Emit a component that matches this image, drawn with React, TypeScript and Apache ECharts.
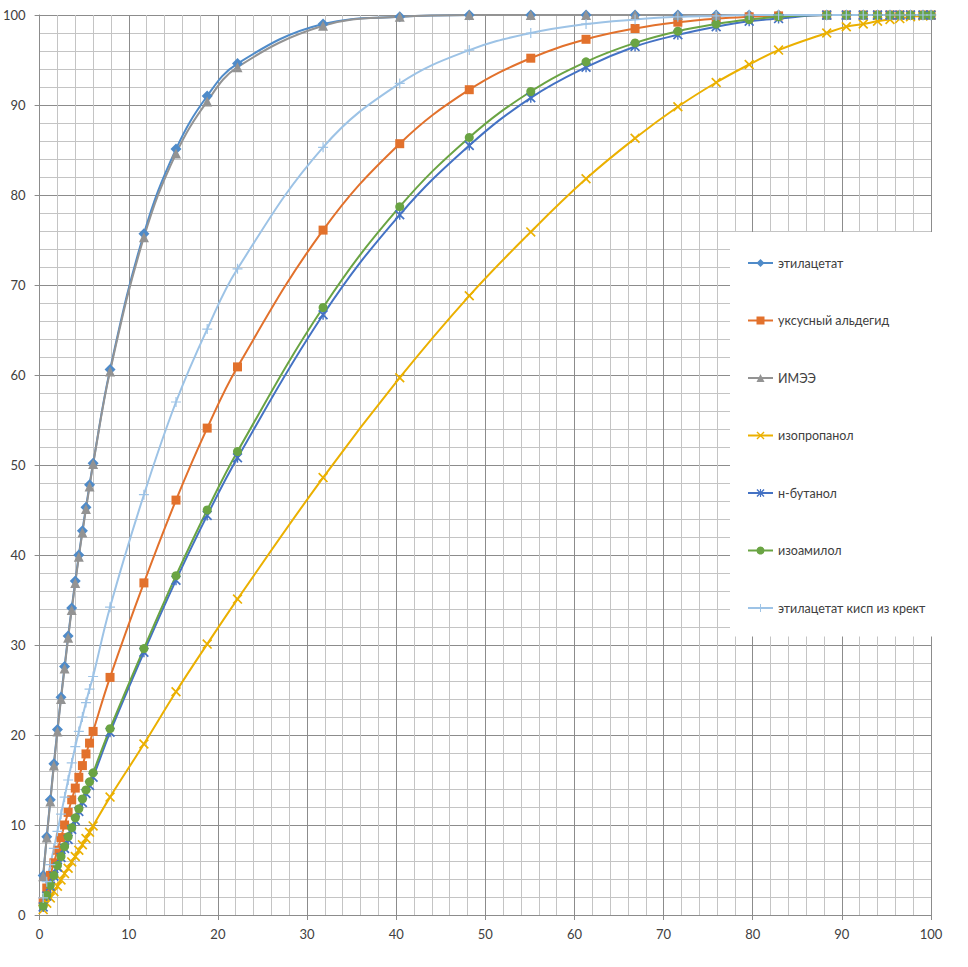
import React, { useEffect, useRef } from 'react';
import * as echarts from 'echarts';

const xValues = [0.4, 0.8, 1.2, 1.6, 2.0, 2.4, 2.8, 3.2, 3.6, 4.0, 4.4, 4.8, 5.2, 5.6, 6.0, 7.9, 11.7, 15.3, 18.8, 22.2, 31.8, 40.4, 48.2, 55.1, 61.3, 66.8, 71.6, 75.9, 79.6, 82.9, 88.3, 90.5, 92.4, 94.0, 95.4, 96.5, 97.7, 99.1, 100];

const seriesNames = ['этилацетат', 'уксусный альдегид', 'ИМЭЭ', 'изопропанол', 'н-бутанол', 'изоамилол', 'этилацетат кисп из крект'];

const ethylAcetate = [4.4, 8.7, 12.8, 16.8, 20.6, 24.2, 27.6, 31.0, 34.1, 37.1, 40.0, 42.7, 45.3, 47.8, 50.2, 60.6, 75.7, 85.1, 91.0, 94.6, 99.0, 99.8, 100, 100, 100, 100, 100, 100, 100, 100, 100, 100, 100, 100, 100, 100, 100, 100, 100];
const acetaldehyde = [1.5, 3.0, 4.4, 5.8, 7.2, 8.6, 10.0, 11.4, 12.8, 14.1, 15.3, 16.6, 17.9, 19.1, 20.4, 26.4, 36.9, 46.1, 54.1, 60.9, 76.1, 85.7, 91.7, 95.2, 97.3, 98.5, 99.2, 99.6, 99.8, 99.9, 100, 100, 100, 100, 100, 100, 100, 100, 100];
const imee = [4.3, 8.6, 12.6, 16.6, 20.4, 24.0, 27.4, 30.8, 33.9, 36.9, 39.8, 42.5, 45.1, 47.6, 50.1, 60.4, 75.3, 84.6, 90.4, 94.2, 98.8, 99.8, 100, 100, 100, 100, 100, 100, 100, 100, 100, 100, 100, 100, 100, 100, 100, 100, 100];
const isopropanol = [0.6, 1.3, 1.9, 2.6, 3.2, 3.9, 4.6, 5.2, 5.9, 6.5, 7.2, 7.8, 8.5, 9.2, 9.9, 13.1, 19.0, 24.8, 30.1, 35.1, 48.6, 59.7, 68.8, 75.9, 81.8, 86.3, 89.8, 92.5, 94.5, 96.1, 98.0, 98.7, 99.0, 99.3, 99.5, 99.6, 99.8, 99.9, 100];
const nButanol = [0.9, 2.1, 3.2, 4.3, 5.3, 6.4, 7.4, 8.4, 9.5, 10.5, 11.5, 12.5, 13.5, 14.4, 15.3, 20.3, 29.2, 37.2, 44.4, 50.8, 66.7, 77.8, 85.5, 90.8, 94.2, 96.5, 97.8, 98.7, 99.3, 99.6, 100, 100, 100, 100, 100, 100, 100, 100, 100];
const isoamylol = [1.0, 2.2, 3.3, 4.4, 5.5, 6.5, 7.6, 8.7, 9.7, 10.8, 11.8, 12.9, 13.9, 14.8, 15.8, 20.7, 29.6, 37.7, 45.0, 51.5, 67.5, 78.7, 86.4, 91.5, 94.8, 96.9, 98.2, 99.0, 99.5, 99.8, 100, 100, 100, 100, 100, 100, 100, 100, 100];
const ethylAcetateRect = [1.9, 3.7, 5.6, 7.4, 9.3, 11.2, 13.1, 15.0, 16.9, 18.7, 20.4, 22.0, 23.6, 25.1, 26.5, 34.2, 46.7, 57.0, 65.1, 71.8, 85.3, 92.4, 96.1, 98.0, 99.0, 99.5, 99.8, 99.9, 100, 100, 100, 100, 100, 100, 100, 100, 100, 100, 100];

const seriesValues = [ethylAcetate, acetaldehyde, imee, isopropanol, nButanol, isoamylol, ethylAcetateRect];
const seriesColors = ['#4F8BC9', '#E2712C', '#939393', '#EBB000', '#4472C4', '#6AA443', '#9DC3E6'];

const X_PATH = 'path://M0,1.2L1.2,0L10,8.8L8.8,10ZM8.8,0L10,1.2L1.2,10L0,8.8Z';
const STAR_PATH = 'path://M0,1.2L1.2,0L10,8.8L8.8,10ZM8.8,0L10,1.2L1.2,10L0,8.8ZM4.3,0L5.7,0L5.7,10L4.3,10Z';
const PLUS_PATH = 'path://M4.4,0L5.6,0L5.6,4.4L10,4.4L10,5.6L5.6,5.6L5.6,10L4.4,10L4.4,5.6L0,5.6L0,4.4L4.4,4.4Z';

const seriesSymbols = ['diamond', 'rect', 'triangle', X_PATH, STAR_PATH, 'circle', PLUS_PATH];
const seriesSymbolSizes = [11, 9, 10, 10, 10, 9, 10];

const FONT = 'Lato, "Liberation Sans", sans-serif';

export default function App() {
  const ref = useRef<HTMLDivElement>(null);
  useEffect(() => {
    if (!ref.current) return;
    const chart = echarts.init(ref.current, undefined, { renderer: 'svg' });
    const axisCommon = {
      type: 'value' as const,
      min: 0,
      max: 100,
      interval: 10,
      axisLine: { show: true, lineStyle: { color: '#8c8c8c', width: 1 } },
      axisTick: { show: true, length: 5, lineStyle: { color: '#8c8c8c' } },
      minorTick: { show: false, splitNumber: 5 },
      splitLine: { show: true, lineStyle: { color: '#8c8c8c', width: 1 } },
      minorSplitLine: { show: true, lineStyle: { color: '#c4c4c4', width: 1 } },
      axisLabel: { color: '#404040', fontSize: 13, fontFamily: FONT },
    };
    chart.setOption({
      animation: false,
      backgroundColor: '#ffffff',
      grid: { left: 35, right: 37, top: 15, bottom: 52, containLabel: false },
      xAxis: { ...axisCommon, axisLabel: { ...axisCommon.axisLabel, margin: 12 } },
      yAxis: { ...axisCommon, axisLabel: { ...axisCommon.axisLabel, margin: 14 } },
      legend: {
        orient: 'vertical',
        left: 730,
        top: 232,
        padding: [24.5, 14, 22, 17],
        backgroundColor: '#ffffff',
        itemWidth: 25,
        itemHeight: 10,
        itemGap: 44.5,
        textStyle: { color: '#404040', fontSize: 12.5, fontFamily: FONT },
        data: seriesNames,
      },
      series: seriesNames.map((name, i) => ({
        name,
        type: 'line',
        smooth: 0.4,
        symbol: seriesSymbols[i],
        symbolSize: seriesSymbolSizes[i],
        showAllSymbol: true,
        color: seriesColors[i],
        lineStyle: { color: seriesColors[i], width: 2 },
        itemStyle: { color: seriesColors[i] },
        data: xValues.map((x, j) => [x, seriesValues[i][j]]),
      })),
    });
    return () => chart.dispose();
  }, []);
  return <div ref={ref} style={{ position: 'fixed', left: 0, top: 0, width: 968, height: 967 }} />;
}
